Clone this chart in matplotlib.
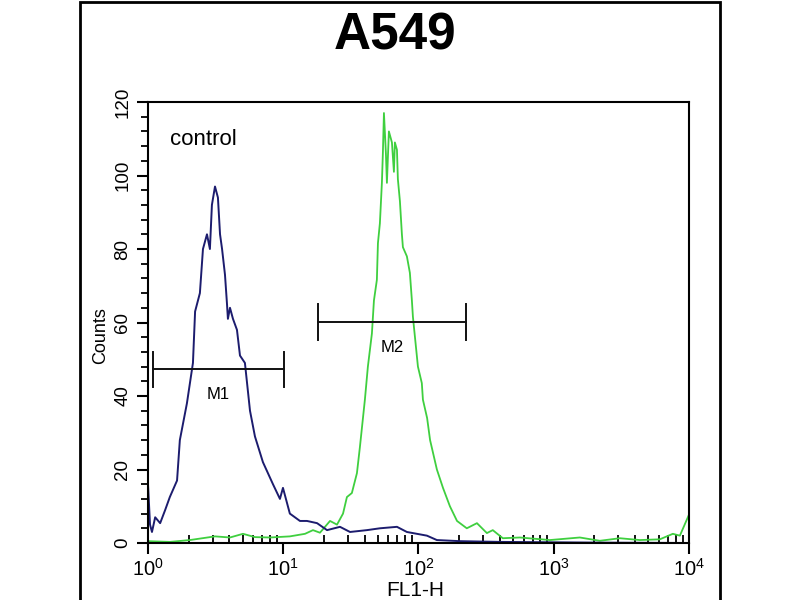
import numpy as np
import matplotlib.pyplot as plt
from matplotlib.ticker import LogLocator, LogFormatterMathtext, MultipleLocator
from matplotlib.patches import Rectangle

plt.rcParams['font.family'] = ['Liberation Sans', 'DejaVu Sans']

# control (blue) histogram: FL1-H channel value, counts
ctrl_fl1 = [1.00, 1.035, 1.07, 1.13, 1.23, 1.34, 1.45, 1.64, 1.72, 1.94, 2.15, 2.23,
            2.42, 2.55, 2.73, 2.87, 2.97, 3.13, 3.29, 3.41, 3.53, 3.71, 3.84, 3.90,
            4.04, 4.25, 4.55, 4.79, 5.21, 5.68, 6.18, 7.08, 8.40, 9.46, 9.96, 11.2,
            13.3, 15.0, 17.8, 21.1, 26.3, 31.2, 41.6, 51.9, 69.4, 82.2, 115.6, 137,
            203, 400, 938, 2198, 10000]
ctrl_cnt = [16, 5, 3, 7, 5.4, 9, 12.5, 17, 28, 38, 49, 63,
            68, 80, 84, 80, 92, 97, 94, 84, 80, 73, 65, 61,
            64, 61, 58, 51, 49, 36, 29, 22, 16, 12, 15, 8,
            6, 6, 5.4, 3.5, 4.4, 3, 3.5, 4, 4.4, 3, 2, 0.8,
            0.5, 0.3, 0.2, 0.1, 0]

# A549 sample (green) histogram
samp_fl1 = [1.0, 1.45, 2.04, 2.42, 3.13, 4.04, 5.04, 6.18, 7.98, 11.2, 14.5, 16.6,
            18.7, 22.2, 25.0, 27.7, 29.6, 32.2, 35.1, 36.9, 40.2, 42.3, 45.3, 46.9,
            49.3, 50.2, 51.9, 53.7, 54.6, 55.6, 57.5, 58.5, 60.5, 63.7, 65.9, 67.0,
            69.4, 70.5, 73.0, 75.5, 76.8, 82.2, 86.5, 89.5, 91.1, 99.2, 106, 108,
            116, 122, 137, 152, 171, 193, 228, 271, 321, 355, 421, 563,
            938, 1563, 2198, 3090, 4343, 6105, 7620, 8590, 10000]
samp_cnt = [0.5, 0.3, 0.8, 1.2, 1.8, 1.5, 2.5, 1.6, 1.5, 1.8, 2.5, 3.5,
            2.8, 6, 5, 8, 12.5, 13.6, 19, 26, 39, 48, 57, 66,
            71.6, 81.6, 87, 98, 106, 117, 106, 98, 112, 109, 101, 109,
            107, 99, 93, 84, 80.5, 78, 73.5, 66, 61.5, 48, 43.5, 39,
            34, 28, 20, 15, 10, 6, 4, 5.4, 2.7, 3.5, 1.3, 1.5,
            0.8, 1.5, 0.6, 1.3, 0.8, 1.0, 2.5, 2.0, 7.6]

# marker gates: (start, end, height)
m1 = (1.09, 10.1, 47.3)
m2 = (18.1, 224, 60.1)

fig = plt.figure(figsize=(8, 6), dpi=100)
ax = fig.add_axes([0.185, 0.095, 0.676, 0.735])

ax.plot(samp_fl1, samp_cnt, color='#3fcf3f', linewidth=1.3)
ax.plot(ctrl_fl1, ctrl_cnt, color='#1c1c6e', linewidth=1.4)

ax.set_xscale('log')
ax.set_xlim(1, 10000)
ax.set_ylim(0, 120)

# marker bars
for (a, b, h), name in [(m1, 'M1'), (m2, 'M2')]:
    ax.plot([a, b], [h, h], color='#111111', linewidth=1.4)
    ax.plot([a, a], [h - 4.8, h + 4.8], color='#111111', linewidth=1.4)
    ax.plot([b, b], [h - 4.8, h + 4.8], color='#111111', linewidth=1.4)
    ax.text(np.sqrt(a * b), h - 7, name, ha='center', va='center', fontsize=12)

ax.text(0.04, 0.915, 'control', transform=ax.transAxes, fontsize=16, ha='left', va='center')

ax.xaxis.set_major_locator(LogLocator(base=10))
ax.xaxis.set_major_formatter(LogFormatterMathtext())
ax.xaxis.set_minor_locator(LogLocator(base=10, subs=np.arange(2, 10)))
ax.yaxis.set_major_locator(MultipleLocator(20))
ax.yaxis.set_minor_locator(MultipleLocator(4))

ax.tick_params(axis='x', which='major', direction='out', length=8, width=1.5, labelsize=14.5, pad=3)
ax.tick_params(axis='x', which='minor', direction='in', length=6, width=1.3)
ax.tick_params(axis='y', which='major', direction='out', length=8, width=1.5, labelsize=13.5, pad=4)
ax.tick_params(axis='y', which='minor', direction='out', length=5, width=1.3)
for lab in ax.get_yticklabels():
    lab.set_rotation(90)
    lab.set_va('center')

for s in ax.spines.values():
    s.set_linewidth(1.5)

ax.set_ylabel('Counts', fontsize=13, va='center')
ax.yaxis.set_label_coords(-0.088, 0.47)
ax.set_xlabel('FL1-H', fontsize=15, va='center')
ax.xaxis.set_label_coords(0.494, -0.107)

fig.text(0.494, 0.94, 'A549', fontsize=37, fontweight='bold', ha='center', va='center')

# outer frame
fig.patches.append(Rectangle((0.1, -0.05), 0.8, 1.047, transform=fig.transFigure,
                             fill=False, edgecolor='black', linewidth=2))

fig.savefig('out.png', dpi=100)
